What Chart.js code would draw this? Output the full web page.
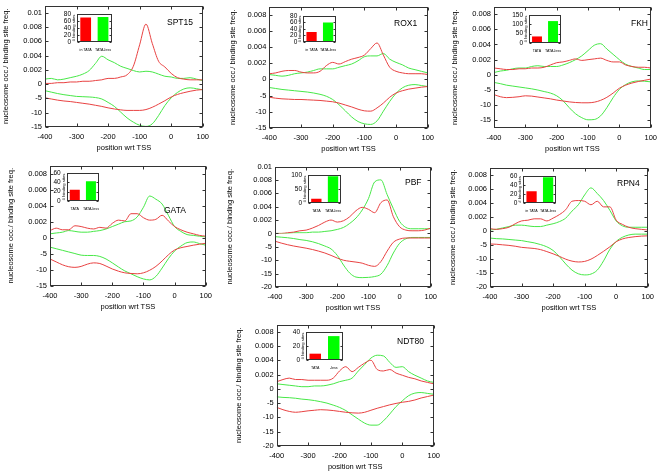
<!DOCTYPE html>
<html><head><meta charset="utf-8">
<script src="https://cdn.jsdelivr.net/npm/chart.js@4.4.1/dist/chart.umd.min.js"></script>
<style>
html,body{margin:0;padding:0;background:#fff;width:662px;height:472px;overflow:hidden;position:relative}
canvas{position:absolute}
</style></head><body>
<script>
// ---------------- DATA ----------------
const positionWrtTSS = [-400,-380,-360,-340,-320,-300,-280,-260,-240,-220,-200,-180,-160,-140,-120,-100,-80,-60,-40,-20,0,20,40,60,80,100];
const insetGroups = ['TATA', 'TATA-less'];

const SPT15_freqTATA     = [0.0001,0.0001,0.0002,0.0002,0.0003,0.0003,0.0004,0.0004,0.0005,0.0006,0.0008,0.0008,0.0010,0.0013,0.0025,0.0055,0.0084,0.0057,0.0032,0.0024,0.0015,0.0009,0.0007,0.0006,0.0006,0.0006];
const SPT15_freqTATAless = [0.0007,0.0008,0.0006,0.0007,0.0009,0.0011,0.0014,0.0019,0.0029,0.0039,0.0034,0.0030,0.0025,0.0022,0.0019,0.0017,0.0018,0.0017,0.0014,0.0011,0.0010,0.0008,0.0008,0.0009,0.0007,0.0005];
const SPT15_occTATA      = [-4.8,-5.2,-5.6,-5.9,-6.1,-6.4,-6.7,-7.0,-7.4,-7.8,-8.3,-8.7,-9.0,-9.2,-9.2,-9.2,-8.9,-8.1,-7.0,-5.8,-4.5,-3.6,-3.0,-2.5,-2.1,-1.9];
const SPT15_occTATAless  = [-2.3,-2.8,-3.3,-3.7,-4.0,-4.3,-4.4,-4.5,-4.7,-5.2,-6.4,-7.8,-9.8,-11.8,-13.3,-14.4,-14.8,-13.9,-11.0,-7.5,-4.8,-2.9,-1.7,-1.3,-1.6,-2.0];
const SPT15_sites = [70, 71];
const SPT15_siteLabels = ['in TATA', 'TATA-less'];

const ROX1_freqTATA     = [0.0007,0.0008,0.0010,0.0011,0.0011,0.0009,0.0008,0.0008,0.0010,0.0017,0.0021,0.0019,0.0022,0.0025,0.0027,0.0030,0.0038,0.0045,0.0030,0.0015,0.0010,0.0008,0.0007,0.0007,0.0007,0.0006];
const ROX1_freqTATAless = [0.0006,0.0005,0.0004,0.0005,0.0007,0.0008,0.0009,0.0011,0.0013,0.0013,0.0013,0.0015,0.0017,0.0019,0.0023,0.0028,0.0029,0.0029,0.0032,0.0025,0.0021,0.0018,0.0014,0.0012,0.0010,0.0008];
const ROX1_occTATA      = [-5.5,-5.8,-6.0,-6.1,-6.2,-6.2,-6.3,-6.4,-6.5,-6.7,-6.9,-7.3,-7.9,-8.5,-9.2,-9.7,-9.8,-8.8,-7.3,-5.5,-4.2,-3.5,-3.0,-2.7,-2.4,-2.2];
const ROX1_occTATAless  = [-2.5,-2.8,-3.1,-3.3,-3.5,-3.7,-3.9,-4.2,-4.6,-5.2,-6.2,-7.8,-9.7,-11.6,-13.0,-13.7,-13.9,-12.8,-9.8,-6.8,-4.3,-2.6,-1.8,-1.6,-1.9,-2.2];
const ROX1_sites = [31, 60];
const ROX1_siteLabels = ['in TATA', 'TATA-less'];

const FKH_freqTATA     = [0.0009,0.0008,0.0007,0.0007,0.0008,0.0008,0.0009,0.0009,0.0010,0.0013,0.0016,0.0017,0.0019,0.0021,0.0019,0.0020,0.0021,0.0022,0.0019,0.0017,0.0017,0.0013,0.0011,0.0010,0.0010,0.0009];
const FKH_freqTATAless = [0.0003,0.0005,0.0006,0.0008,0.0009,0.0009,0.0011,0.0012,0.0011,0.0011,0.0011,0.0013,0.0016,0.0020,0.0025,0.0032,0.0039,0.0041,0.0034,0.0027,0.0020,0.0014,0.0011,0.0009,0.0007,0.0007];
const FKH_occTATA      = [-6.5,-7.2,-7.5,-7.4,-7.2,-6.9,-7.0,-7.3,-7.6,-7.9,-8.3,-8.6,-8.9,-9.1,-9.2,-9.2,-9.0,-8.4,-7.4,-6.0,-4.4,-3.4,-2.7,-2.2,-1.8,-1.4];
const FKH_occTATAless  = [-2.5,-2.9,-3.4,-3.7,-4.0,-4.3,-4.6,-5.0,-5.5,-6.0,-6.9,-8.5,-10.8,-12.8,-14.1,-14.8,-14.7,-13.5,-10.8,-7.5,-4.8,-3.2,-2.3,-2.0,-2.1,-2.3];
const FKH_sites = [35, 117];

const GATA_freqTATA     = [0.0009,0.0012,0.0010,0.0010,0.0015,0.0014,0.0012,0.0011,0.0013,0.0012,0.0018,0.0022,0.0021,0.0030,0.0030,0.0025,0.0022,0.0023,0.0028,0.0021,0.0014,0.0010,0.0007,0.0005,0.0003,0.0002];
const GATA_freqTATAless = [0.0005,0.0006,0.0007,0.0009,0.0008,0.0007,0.0007,0.0008,0.0009,0.0011,0.0014,0.0017,0.0020,0.0021,0.0026,0.0038,0.0052,0.0048,0.0042,0.0028,0.0014,0.0008,0.0004,0.0003,0.0002,0.0001];
const GATA_occTATA      = [-6.6,-7.5,-8.4,-9.0,-9.2,-8.9,-8.2,-7.8,-8.0,-8.8,-9.7,-10.4,-10.9,-11.1,-11.2,-10.9,-10.1,-8.9,-7.2,-5.3,-3.8,-3.1,-2.7,-2.3,-2.0,-1.7];
const GATA_occTATAless  = [-2.9,-3.4,-3.9,-4.4,-4.9,-5.4,-5.5,-5.5,-5.8,-6.6,-7.8,-9.1,-10.3,-11.2,-12.1,-12.8,-13.1,-12.0,-9.4,-6.5,-4.1,-2.6,-1.5,-1.3,-1.8,-2.3];
const GATA_sites = [24, 42];

const PBF_freqTATA     = [0.0000,0.0000,0.0001,0.0002,0.0004,0.0005,0.0008,0.0012,0.0017,0.0020,0.0017,0.0019,0.0025,0.0034,0.0039,0.0036,0.0031,0.0046,0.0050,0.0025,0.0010,0.0005,0.0004,0.0004,0.0005,0.0008];
const PBF_freqTATAless = [0.0000,0.0000,0.0000,0.0001,0.0001,0.0001,0.0002,0.0002,0.0003,0.0004,0.0006,0.0009,0.0015,0.0023,0.0035,0.0052,0.0077,0.0080,0.0058,0.0037,0.0018,0.0009,0.0007,0.0007,0.0007,0.0007];
const PBF_occTATA      = [-2.9,-3.6,-4.2,-4.7,-5.1,-5.5,-6.0,-6.6,-7.3,-8.2,-9.2,-10.0,-10.4,-10.7,-11.1,-11.9,-12.3,-10.5,-6.6,-3.3,-2.1,-1.7,-1.7,-1.7,-1.7,-1.7];
const PBF_occTATAless  = [-1.2,-1.4,-1.6,-1.9,-2.3,-2.6,-3.1,-3.8,-4.7,-5.8,-8.2,-11.8,-14.8,-16.3,-16.5,-16.4,-16.1,-15.2,-12.0,-7.3,-3.7,-2.0,-1.5,-1.5,-1.5,-1.5];
const PBF_sites = [15, 95];

const RPN4_freqTATA     = [0.0003,0.0002,0.0003,0.0005,0.0010,0.0014,0.0015,0.0017,0.0017,0.0014,0.0018,0.0023,0.0030,0.0042,0.0043,0.0042,0.0037,0.0042,0.0034,0.0034,0.0015,0.0009,0.0005,0.0003,0.0002,0.0001];
const RPN4_freqTATAless = [0.0001,0.0002,0.0004,0.0006,0.0008,0.0008,0.0007,0.0006,0.0006,0.0008,0.0010,0.0013,0.0018,0.0028,0.0037,0.0051,0.0061,0.0053,0.0043,0.0029,0.0014,0.0007,0.0005,0.0005,0.0005,0.0005];
const RPN4_occTATA      = [-4.7,-4.8,-5.0,-5.2,-5.5,-5.9,-6.1,-6.3,-6.7,-7.4,-8.2,-9.1,-10.1,-10.8,-11.1,-10.9,-10.1,-8.8,-7.3,-5.7,-3.9,-2.9,-2.4,-2.1,-1.9,-1.8];
const RPN4_occTATAless  = [-2.6,-2.8,-2.9,-3.1,-3.3,-3.5,-3.9,-4.3,-4.9,-5.7,-7.0,-9.2,-11.8,-14.0,-15.3,-15.7,-15.4,-14.0,-10.7,-6.6,-3.8,-2.3,-1.5,-1.2,-1.2,-1.2];
const RPN4_sites = [26, 57];
const RPN4_siteLabels = ['in TATA', 'TATA-less'];

const NDT80_freqTATA     = [0.0010,0.0013,0.0015,0.0013,0.0013,0.0012,0.0012,0.0012,0.0012,0.0015,0.0025,0.0031,0.0024,0.0030,0.0036,0.0040,0.0027,0.0025,0.0027,0.0022,0.0019,0.0016,0.0014,0.0011,0.0009,0.0007];
const NDT80_freqTATAless = [0.0007,0.0006,0.0005,0.0004,0.0003,0.0003,0.0004,0.0004,0.0005,0.0007,0.0010,0.0012,0.0015,0.0025,0.0034,0.0043,0.0047,0.0046,0.0037,0.0030,0.0031,0.0024,0.0019,0.0015,0.0011,0.0009];
const NDT80_occTATA      = [-6.5,-7.3,-7.9,-8.2,-8.0,-7.7,-7.5,-7.3,-7.4,-7.6,-7.9,-8.2,-8.4,-8.5,-8.2,-7.5,-6.8,-6.2,-5.6,-5.1,-4.7,-4.4,-3.9,-3.2,-2.7,-2.2];
const NDT80_occTATAless  = [-2.8,-3.0,-3.1,-3.3,-3.6,-3.8,-4.1,-4.5,-5.0,-5.7,-6.5,-7.6,-9.1,-10.6,-12.0,-12.7,-12.7,-11.2,-8.8,-6.2,-4.2,-2.4,-1.5,-1.3,-1.6,-1.9];
const NDT80_sites = [9, 34];
const NDT80_siteLabels = ['TATA', '-less'];

const yTitle = 'nucleosome occ./ binding site freq.';
const xTitle = 'position wrt TSS';
const insetTitle = '# binding sites';

// ---------------- STYLE / LAYOUT ----------------
const FONT = '"Liberation Sans", Arial, Helvetica, sans-serif';
const RED = 'rgb(232,66,66)';
const GREEN = 'rgb(72,232,72)';
const BAR_RED = '#ff0000';
const BAR_GREEN = '#00ff00';
const FRAME = '#333';
Chart.defaults.font.family = FONT;
Chart.defaults.color = '#000';

const panels = [
  {name:'SPT15', freq:[SPT15_freqTATA,SPT15_freqTATAless], occ:[SPT15_occTATA,SPT15_occTATAless],
   L:45, T:3, R:205, B:126.7, tx:5.8, yMax:0.011, yMin:-15, nx:167, ny:23,
   inset:{L:77, T:9, R:114, B:42, max:80, step:20, values:SPT15_sites, labels:SPT15_siteLabels}},
  {name:'ROX1', freq:[ROX1_freqTATA,ROX1_freqTATAless], occ:[ROX1_occTATA,ROX1_occTATAless],
   L:269.3, T:4, R:430, B:127.7, tx:232.5, yMax:0.009, yMin:-15, nx:394, ny:24,
   inset:{L:303.3, T:10.7, R:339.3, B:42.3, max:80, step:20, values:ROX1_sites, labels:ROX1_siteLabels}},
  {name:'FKH', freq:[FKH_freqTATA,FKH_freqTATAless], occ:[FKH_occTATA,FKH_occTATAless],
   L:494, T:4, R:653.3, B:127.7, tx:454.5, yMax:0.009, yMin:-17.5, nx:631, ny:24,
   inset:{L:529, T:9.5, R:564, B:43.3, max:150, step:50, values:FKH_sites, labels:insetGroups}},
  {name:'GATA', freq:[GATA_freqTATA,GATA_freqTATAless], occ:[GATA_occTATA,GATA_occTATAless],
   L:50, T:163.3, R:208.3, B:286, tx:11.2, yMax:0.009, yMin:-15, nx:164, ny:211,
   inset:{L:66.7, T:168.3, R:101.7, B:201, max:60, step:20, values:GATA_sites, labels:insetGroups}},
  {name:'PBF', freq:[PBF_freqTATA,PBF_freqTATAless], occ:[PBF_occTATA,PBF_occTATAless],
   L:275, T:164, R:433.3, B:287.3, tx:230, yMax:0.01, yMin:-20, nx:405, ny:183,
   inset:{L:308, T:170, R:344, B:202.5, max:100, step:50, values:PBF_sites, labels:insetGroups}},
  {name:'RPN4', freq:[RPN4_freqTATA,RPN4_freqTATAless], occ:[RPN4_occTATA,RPN4_occTATAless],
   L:490, T:165, R:650, B:287.3, tx:452.5, yMax:0.009, yMin:-20, nx:617, ny:184,
   inset:{L:523.3, T:170.7, R:559.3, B:203.3, max:60, step:20, values:RPN4_sites, labels:RPN4_siteLabels}},
  {name:'NDT80', freq:[NDT80_freqTATA,NDT80_freqTATAless], occ:[NDT80_occTATA,NDT80_occTATAless],
   L:276.7, T:321.7, R:436, B:445.7, tx:238.8, yMax:0.009, yMin:-20, nx:397, ny:342,
   inset:{L:306, T:327, R:343, B:359.5, max:40, step:20, values:NDT80_sites, labels:NDT80_siteLabels}}
];

function makeCanvas(left, top, w, h){
  const c = document.createElement('canvas');
  c.width = w; c.height = h;
  c.style.left = left + 'px'; c.style.top = top + 'px';
  c.style.width = w + 'px'; c.style.height = h + 'px';
  document.body.appendChild(c);
  return c;
}

const framePlugin = {
  id: 'frame',
  afterDraw(chart, args, opts){
    const {ctx, chartArea: a} = chart;
    const tl = opts.tick || 3;
    ctx.save();
    ctx.strokeStyle = FRAME; ctx.lineWidth = 1;
    const l = Math.round(a.left) + 0.5, t = Math.round(a.top) + 0.5;
    const r = Math.round(a.right) - 0.5, b = Math.round(a.bottom) - 0.5;
    ctx.strokeRect(l, t, r - l, b - t);
    ctx.beginPath();
    if (opts.xticks) {
      const xs = chart.scales.x;
      xs.ticks.forEach(tk => {
        const px = Math.round(xs.getPixelForValue(tk.value)) + 0.5;
        ctx.moveTo(px, b); ctx.lineTo(px, b - tl);
        ctx.moveTo(px, t); ctx.lineTo(px, t + tl);
      });
    }
    Object.values(chart.scales).filter(s => s.axis === 'y').forEach(s => {
      s.ticks.forEach(tk => {
        const py = Math.round(s.getPixelForValue(tk.value)) + 0.5;
        ctx.moveTo(l, py); ctx.lineTo(l + tl, py);
        ctx.moveTo(r, py); ctx.lineTo(r - tl, py);
      });
    });
    ctx.stroke();
    ctx.restore();
  }
};

const decoPlugin = {
  id: 'deco',
  afterDraw(chart, args, o){
    const {ctx, chartArea: a} = chart;
    ctx.save();
    ctx.fillStyle = '#000';
    if (o.name) {
      ctx.font = `${o.nameSize}px ${FONT}`;
      ctx.textAlign = 'left'; ctx.textBaseline = 'middle';
      ctx.fillText(o.name, o.nx, o.ny);
    }
    if (o.ytitle) {
      ctx.font = `${o.ytSize}px ${FONT}`;
      ctx.translate(o.tx, o.ty !== undefined ? o.ty : (a.top + a.bottom) / 2);
      ctx.rotate(-Math.PI / 2);
      ctx.textAlign = 'center'; ctx.textBaseline = 'middle';
      ctx.fillText(o.ytitle, 0, 0);
    }
    ctx.restore();
  }
};

const tickFont = {size: 7.5, family: FONT};

function mainChart(p){
  const padTop = 5, padRight = 9, xH = 26;
  const cl = Math.round(p.tx - 5);
  const ct = Math.round(p.T - padTop);
  const yW = p.L - cl;
  const w = Math.round(p.R - cl + padRight);
  const h = Math.round(p.B - ct + xH);
  const canvas = makeCanvas(cl, ct, w, h);
  const pts = arr => positionWrtTSS.map((x, i) => ({x: x, y: arr[i]}));
  const common = {grid: {display: false, drawTicks: false}, border: {display: false}};
  new Chart(canvas, {
    type: 'line',
    data: {datasets: [
      {data: pts(p.freq[0]), yAxisID: 'yU', borderColor: RED},
      {data: pts(p.freq[1]), yAxisID: 'yU', borderColor: GREEN},
      {data: pts(p.occ[0]), yAxisID: 'yL', borderColor: RED},
      {data: pts(p.occ[1]), yAxisID: 'yL', borderColor: GREEN}
    ]},
    options: {
      responsive: false, animation: false, devicePixelRatio: 1,
      layout: {padding: {top: p.T - ct, right: w - (p.R - cl), left: 0, bottom: 0}},
      elements: {point: {radius: 0}, line: {borderWidth: 1, cubicInterpolationMode: 'monotone', fill: false}},
      plugins: {
        legend: {display: false}, tooltip: {enabled: false},
        frame: {tick: 3, xticks: true},
        deco: {name: p.name, nameSize: 8.5, nx: p.nx - cl, ny: p.ny - ct,
               ytitle: yTitle, ytSize: 7.5, tx: p.tx - cl}
      },
      scales: {
        x: Object.assign({}, common, {
          type: 'linear', min: -400, max: 100,
          ticks: {stepSize: 100, padding: 5, font: tickFont, maxRotation: 0, autoSkip: false},
          title: {display: true, text: xTitle, font: {size: 7.5, family: FONT}, padding: {top: 0, bottom: 1}},
          afterFit(s){ s.height = xH; }
        }),
        yU: Object.assign({}, common, {
          type: 'linear', position: 'left', stack: 'y', stackWeight: p.yMax / 0.002, weight: 1,
          min: 0, max: p.yMax,
          ticks: {stepSize: 0.002, includeBounds: false, padding: 3, font: tickFont, autoSkip: false,
                  callback: v => Math.abs(v) < 1e-9 ? '0' : String(+v.toFixed(4))},
          afterFit(s){ s.width = yW; }
        }),
        yL: Object.assign({}, common, {
          type: 'linear', position: 'left', stack: 'y', stackWeight: -p.yMin / 5, weight: 0,
          min: p.yMin, max: 0,
          ticks: {stepSize: 5, includeBounds: false, padding: 3, font: tickFont, autoSkip: false,
                  callback: v => v === 0 ? null : String(v)},
          afterFit(s){ s.width = yW; }
        })
      }
    },
    plugins: [framePlugin, decoPlugin]
  });
}

function insetChart(q){
  const yW = 19, xH = 12, padTop = 5, padRight = 4;
  const cl = Math.round(q.L - yW);
  const ct = Math.round(q.T - padTop);
  const w = Math.round(q.R - cl + padRight);
  const h = Math.round(q.B - ct + xH);
  const canvas = makeCanvas(cl, ct, w, h);
  new Chart(canvas, {
    type: 'bar',
    data: {labels: q.labels, datasets: [{data: q.values, backgroundColor: [BAR_RED, BAR_GREEN],
           borderWidth: 0, barPercentage: 0.62, categoryPercentage: 1}]},
    options: {
      responsive: false, animation: false, devicePixelRatio: 1,
      layout: {padding: {top: q.T - ct, right: w - (q.R - cl), left: 0, bottom: 0}},
      plugins: {
        legend: {display: false}, tooltip: {enabled: false},
        frame: {tick: 2, xticks: false},
        deco: {ytitle: insetTitle, ytSize: 4.2, tx: q.L - cl - 3}
      },
      scales: {
        x: {grid: {display: false, drawTicks: false}, border: {display: false},
            ticks: {font: {size: 3.6, family: FONT}, padding: 6, maxRotation: 0, minRotation: 0, autoSkip: false},
            afterFit(s){ s.height = xH; }},
        y: {min: 0, max: q.max, grid: {display: false, drawTicks: false}, border: {display: false},
            ticks: {stepSize: q.step, padding: 6, font: {size: 6.5, family: FONT}, autoSkip: false},
            afterFit(s){ s.width = q.L - cl; }}
      }
    },
    plugins: [framePlugin, decoPlugin]
  });
}

panels.forEach(p => { mainChart(p); insetChart(p.inset); });
</script>
</body></html>
